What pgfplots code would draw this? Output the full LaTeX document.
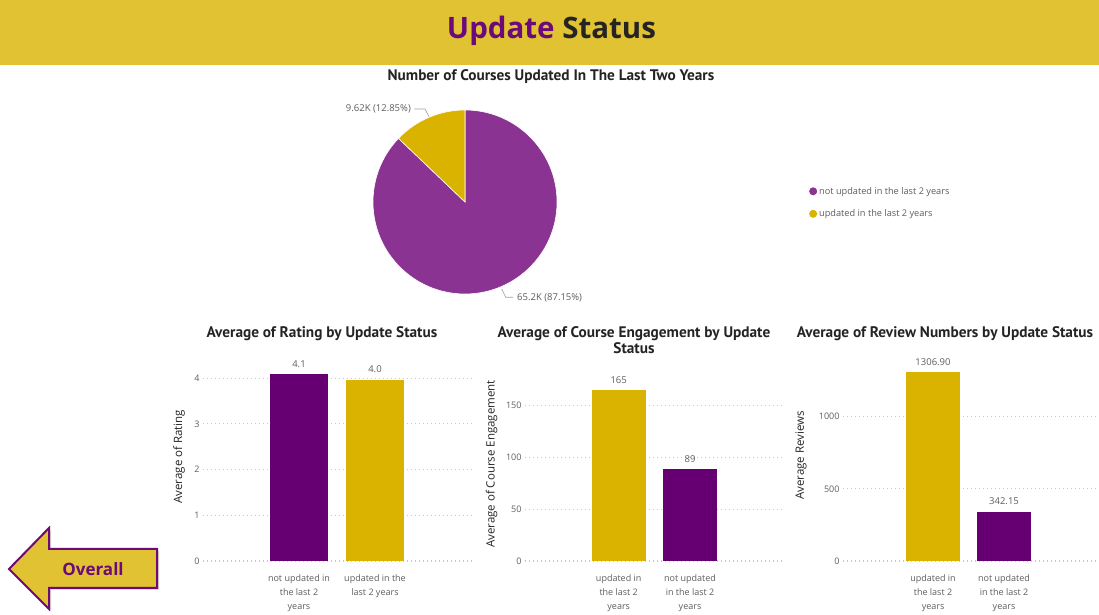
\documentclass[border=0pt]{standalone}
\usepackage{fontspec}
\setmainfont{Open Sans}
\newfontfamily\titlefont{PT Sans}
\usepackage{pgfplots}
\usepackage{pgfplotstable}
\pgfplotsset{compat=1.18}
\usetikzlibrary{shadows}
\definecolor{hdr}{HTML}{E0C232}
\definecolor{ttlpurple}{HTML}{6B0A78}
\definecolor{dark}{HTML}{252423}
\definecolor{barpurple}{HTML}{660072}
\definecolor{baryellow}{HTML}{D9B300}
\definecolor{piepurple}{HTML}{8A3392}
\definecolor{pieyellow}{HTML}{D9B300}
\definecolor{tickc}{HTML}{605E5C}
\definecolor{gridc}{HTML}{C8C6C4}
\definecolor{leadc}{HTML}{A19F9D}

\pgfplotstableread{
status value pct
notupdated 65.2 87.15
updated 9.62 12.85
}\pietable
\pgfplotstablegetelem{1}{pct}\of\pietable
\let\pctUpd\pgfplotsretval
\pgfmathsetmacro{\angB}{90+3.6*\pctUpd}

\pgfplotsset{
 barax/.style={
  scale only axis, anchor=south west, ymin=0,
  axis line style={draw=none}, major tick length=0pt, tick style={draw=none},
  ymajorgrids, grid style={dash pattern=on 1pt off 3pt, draw=gridc, line width=1pt},
  xtick={0,1},
  xticklabel style={align=center, font=\fontsize{9}{14}\selectfont, text=tickc, yshift=-10pt},
  yticklabel style={font=\fontsize{9}{11}\selectfont, text=tickc},
  ylabel style={font=\fontsize{11.5}{13}\selectfont, text=dark, anchor=center},
  /pgf/number format/assume math mode=true,
  /pgf/number format/1000 sep={},
  ybar, bar shift=0pt,
  nodes near coords style={font=\fontsize{9.5}{11}\selectfont, text=tickc, yshift=3pt},
  title style={font=\titlefont\bfseries\fontsize{15.3}{16.5}\selectfont, text=dark, anchor=center, align=center, yshift=-7.5pt},
  clip=false,
 }
}

\begin{document}
\begin{tikzpicture}[x=1pt,y=1pt]
\fill[white] (0,0) rectangle (1099,615);
% header band
\fill[hdr] (0,550) rectangle (1099,615);
\node[font=\fontsize{29.5}{32}\selectfont\bfseries] at (551.5,584.5) {\textcolor{ttlpurple}{Update} \textcolor{dark}{Status}};

% pie chart
\begin{axis}[at={(373pt,321pt)}, anchor=south west, scale only axis,
  width=184pt, height=184pt, xmin=-1, xmax=1, ymin=-1, ymax=1,
  hide axis, clip=false,
  title={Number of Courses Updated In The Last Two Years},
  title style={at={(axis description cs:0.967,1.19)}, anchor=center, yshift=-8pt,
    font=\titlefont\bfseries\fontsize{15.3}{16.5}\selectfont, text=dark},
  legend image code/.code={\fill[#1] (0pt,0pt) circle (4pt);},
  legend style={draw=none, fill=none, at={(2.353,0.497)}, anchor=west,
    font=\fontsize{9.2}{11}\selectfont, text=tickc, row sep=10pt,
    /tikz/every odd column/.append style={column sep=0pt}},
  legend cell align=left]
\addlegendimage{fill=piepurple, draw=none}
\addlegendentry{not updated in the last 2 years}
\addlegendimage{fill=pieyellow, draw=none}
\addlegendentry{updated in the last 2 years}
\fill[piepurple, draw=white, line width=0.6pt] (axis cs:0,0) -- (axis cs:{cos(\angB)},{sin(\angB)}) arc[start angle=\angB, end angle=450, radius=92pt] -- cycle;
\fill[pieyellow, draw=white, line width=0.6pt] (axis cs:0,0) -- (axis cs:0,1) arc[start angle=90, end angle=\angB, radius=92pt] -- cycle;
\end{axis}
% pie labels
\draw[leadc, line width=0.6pt] (414.3,506) -- (425,506) -- (429,498.3);
\node[anchor=east, font=\fontsize{9.5}{11}\selectfont, text=tickc, inner sep=1pt] at (412,506) {9.62K (12.85\%)};
\draw[leadc, line width=0.6pt] (501.7,326) -- (505.7,317.7) -- (513,317.7);
\node[anchor=west, font=\fontsize{9.5}{11}\selectfont, text=tickc, inner sep=1pt] at (516,317.5) {65.2K (87.15\%)};

% chart 1
\begin{axis}[barax, at={(203pt,54pt)}, width=272pt, height=201pt,
  ymax=4.40, xmin=-1.263, xmax=2.316, ytick={0,1,2,3,4},
  xticklabels={not updated in\\the last 2\\years, updated in the\\last 2 years},
  ylabel={Average of Rating},
  ylabel style={at={(axis description cs:-0.088,0.519)}},
  title={Average of Rating by Update Status},
  title style={at={(axis description cs:0.4375,1.139)}},
  nodes near coords={\pgfmathprintnumber[fixed,fixed zerofill,precision=1]{\pgfplotspointmeta}},
  bar width=58pt]
\addplot[fill=barpurple, draw=none] coordinates {(0,4.09)};
\addplot[fill=baryellow, draw=none] coordinates {(1,3.97)};
\end{axis}

% chart 2
\begin{axis}[barax, at={(525pt,54pt)}, width=257pt, height=191pt,
  ymax=183.7, xmin=-1.314, xmax=2.29, ytick={0,50,100,150},
  xticklabels={updated in\\the last 2\\years, not updated\\in the last 2\\years},
  ylabel={Average of Course Engagement},
  ylabel style={at={(axis description cs:-0.1296,0.508)}},
  title={Average of Course Engagement by Update\\Status},
  title style={at={(axis description cs:0.424,1.157)}, yshift=1.5pt},
  nodes near coords={\pgfmathprintnumber[fixed,precision=0]{\pgfplotspointmeta}},
  bar width=54pt]
\addplot[fill=baryellow, draw=none] coordinates {(0,164.5)};
\addplot[fill=barpurple, draw=none] coordinates {(1,88.8)};
\end{axis}

% chart 3
\begin{axis}[barax, at={(843pt,54pt)}, width=254pt, height=201pt,
  ymax=1393, xmin=-1.268, xmax=2.31, ytick={0,500,1000},
  xticklabels={updated in\\the last 2\\years, not updated\\in the last 2\\years},
  ylabel={Average Reviews},
  ylabel style={at={(axis description cs:-0.165,0.525)}},
  title={Average of Review Numbers by Update Status},
  title style={at={(axis description cs:0.4016,1.139)}},
  nodes near coords={\pgfmathprintnumber[fixed,fixed zerofill,precision=2]{\pgfplotspointmeta}},
  bar width=54pt]
\addplot[fill=baryellow, draw=none] coordinates {(0,1306.90)};
\addplot[fill=barpurple, draw=none] coordinates {(1,342.15)};
\end{axis}

% Overall button
\draw[draw=ttlpurple, line width=2pt, fill=hdr, line join=miter,
  drop shadow={opacity=0.25, shadow xshift=2pt, shadow yshift=-2pt, fill=hdr!60!black}]
  (9,46) -- (49,87) -- (49,66) -- (157,66) -- (157,27) -- (49,27) -- (49,6) -- cycle;
\node[font=\fontsize{17}{20}\selectfont\bfseries, text=ttlpurple] at (93,46) {Overall};
\end{tikzpicture}
\end{document}
